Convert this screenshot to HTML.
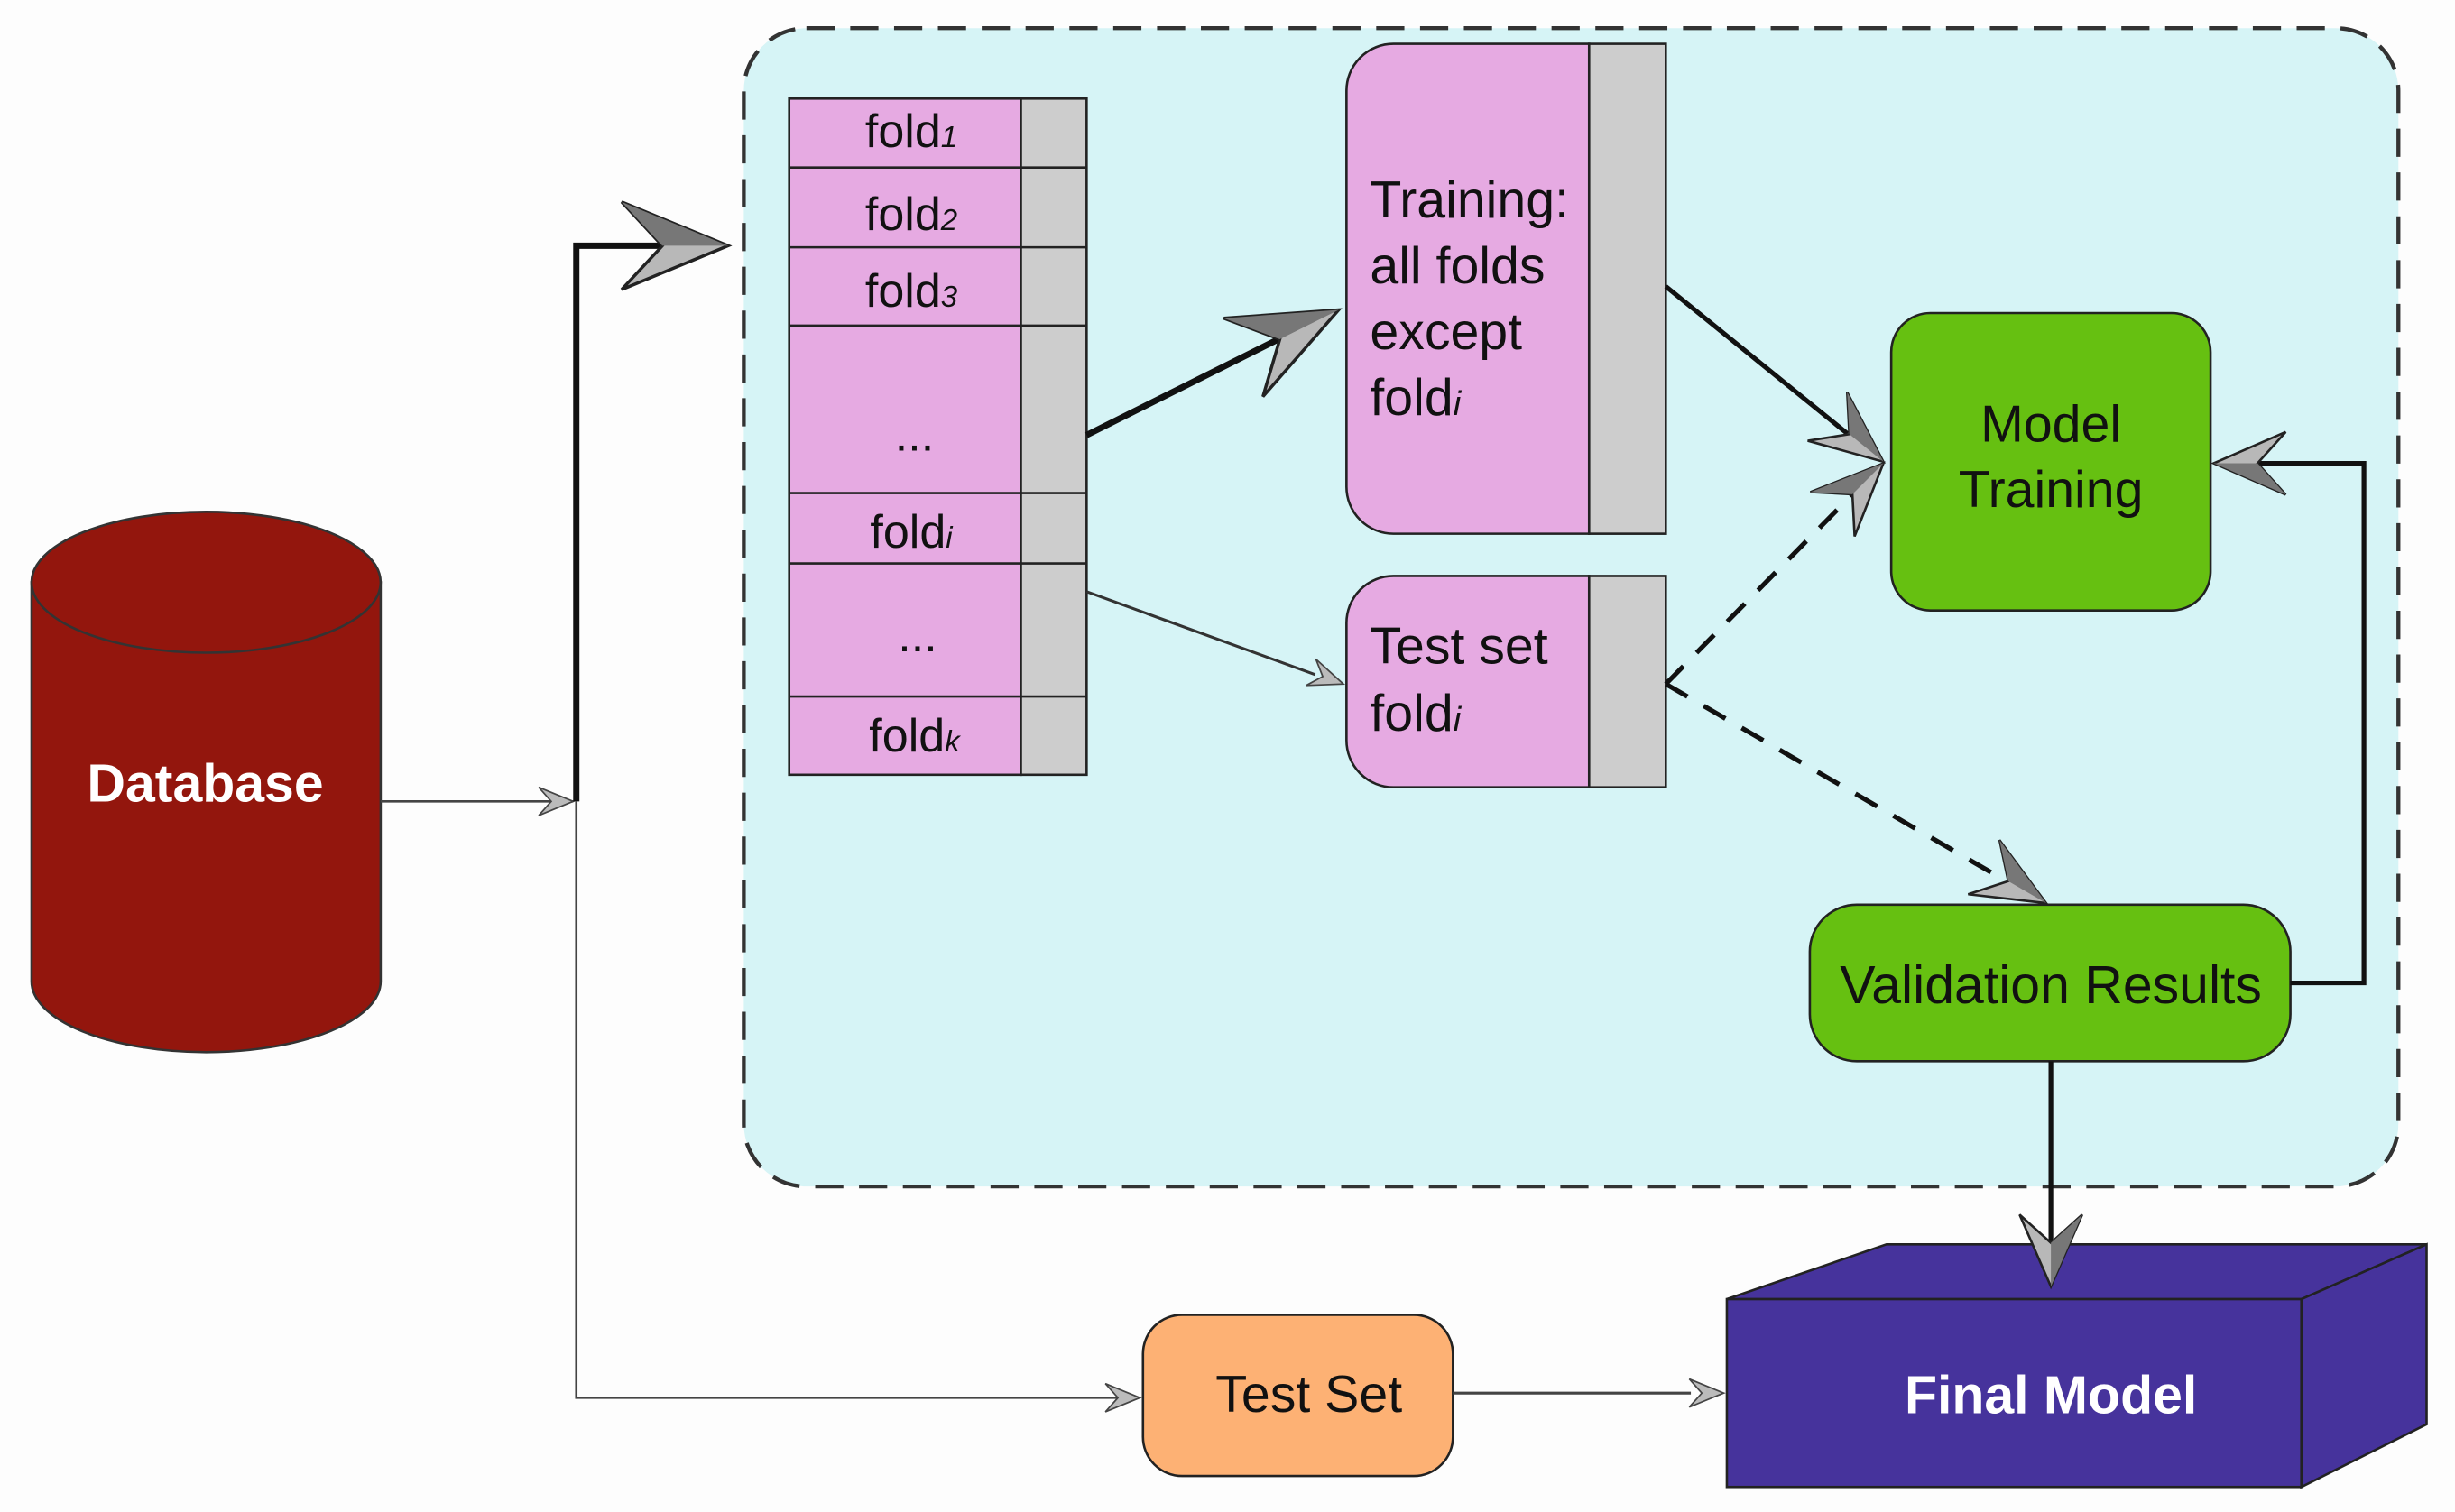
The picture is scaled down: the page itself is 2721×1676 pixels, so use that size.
<!DOCTYPE html>
<html><head><meta charset="utf-8"><style>html,body{margin:0;padding:0;background:#fdfdfd}svg{display:block}text{font-family:"Liberation Sans",Arial,sans-serif}</style></head>
<body>
<svg width="2721" height="1676" viewBox="0 0 1568 966" xmlns="http://www.w3.org/2000/svg">
<defs>
<g id="big"><path d="M0,0 L-68,-28 L-42,0 L-68,28 Z" fill="#b8b8b8" stroke="#222" stroke-width="2"/><path d="M0,0 L-68,-28 L-42,0 Z" fill="#777"/></g>
<g id="med"><path d="M0,0 L-46,-20 L-28,0 L-46,20 Z" fill="#b8b8b8" stroke="#222" stroke-width="1.5"/><path d="M0,0 L-46,-20 L-28,0 Z" fill="#777"/></g>
<g id="sm"><path d="M0,0 L-22,-9 L-14,0 L-22,9 Z" fill="#bbb" stroke="#444" stroke-width="1"/></g>
</defs>
<rect width="1568" height="966" fill="#fdfdfd"/>
<rect x="475" y="18" width="1057" height="740" rx="40" fill="#d6f4f6" stroke="#333" stroke-width="2.5" stroke-dasharray="18,10"/>
<path d="M20,372 L20,627 A111,45 0 0 0 243,627 L243,372 Z" fill="#93160d" stroke="#333" stroke-width="1.5"/>
<ellipse cx="131.5" cy="372" rx="111.5" ry="45" fill="#93160d" stroke="#333" stroke-width="1.5"/>
<text x="131" y="512" font-size="34" font-weight="bold" fill="#fff" text-anchor="middle">Database</text>
<line x1="243" y1="512" x2="366" y2="512" stroke="#444" stroke-width="1.5"/>
<use href="#sm" transform="translate(366,512)"/>
<polyline points="368,512 368,157 425,157" fill="none" stroke="#111" stroke-width="4"/>
<use href="#big" transform="translate(465,157)"/>
<polyline points="368,512 368,893 726,893" fill="none" stroke="#444" stroke-width="1.5"/>
<use href="#sm" transform="translate(728,893)"/>
<g stroke="#222" stroke-width="1.5">
<rect x="504" y="63" width="148" height="432" fill="#e6aae2"/>
<rect x="652" y="63" width="42" height="432" fill="#cdcdcd"/>
<line x1="504" y1="107" x2="694" y2="107"/><line x1="504" y1="158" x2="694" y2="158"/><line x1="504" y1="208" x2="694" y2="208"/><line x1="504" y1="315" x2="694" y2="315"/><line x1="504" y1="360" x2="694" y2="360"/><line x1="504" y1="445" x2="694" y2="445"/>
</g>
<g font-size="30" fill="#111" text-anchor="middle">
<text x="582" y="94">fold<tspan font-size="19" font-style="italic">1</tspan></text>
<text x="582" y="147">fold<tspan font-size="19" font-style="italic">2</tspan></text>
<text x="582" y="196">fold<tspan font-size="19" font-style="italic">3</tspan></text>
<text x="584" y="288">...</text>
<text x="582" y="350">fold<tspan font-size="19" font-style="italic">i</tspan></text>
<text x="586" y="416">...</text>
<text x="584" y="480">fold<tspan font-size="19" font-style="italic">k</tspan></text>
</g>
<line x1="694" y1="278" x2="820" y2="215" stroke="#111" stroke-width="4"/>
<use href="#big" transform="translate(855,198) rotate(-26.5)"/>
<line x1="694" y1="378" x2="840" y2="431" stroke="#333" stroke-width="1.8"/>
<use href="#sm" transform="translate(858,437) rotate(20)"/>
<path d="M890,28 L1015,28 L1015,341 L890,341 A30,30 0 0 1 860,311 L860,58 A30,30 0 0 1 890,28 Z" fill="#e6aae2" stroke="#222" stroke-width="1.5"/>
<rect x="1015" y="28" width="49" height="313" fill="#cdcdcd" stroke="#222" stroke-width="1.5"/>
<g font-size="33" fill="#111">
<text x="875" y="139">Training:</text><text x="875" y="181">all folds</text><text x="875" y="223">except</text><text x="875" y="265">fold<tspan font-size="22" font-style="italic">i</tspan></text>
</g>
<path d="M890,368 L1015,368 L1015,503 L890,503 A30,30 0 0 1 860,473 L860,398 A30,30 0 0 1 890,368 Z" fill="#e6aae2" stroke="#222" stroke-width="1.5"/>
<rect x="1015" y="368" width="49" height="135" fill="#cdcdcd" stroke="#222" stroke-width="1.5"/>
<g font-size="33" fill="#111"><text x="875" y="424">Test set</text><text x="875" y="467">fold<tspan font-size="22" font-style="italic">i</tspan></text></g>
<rect x="1208" y="200" width="204" height="190" rx="25" fill="#66c011" stroke="#222" stroke-width="1.5"/>
<g font-size="33" fill="#111" text-anchor="middle"><text x="1310" y="282">Model</text><text x="1310" y="324">Training</text></g>
<line x1="1064" y1="183" x2="1180" y2="277" stroke="#111" stroke-width="3"/>
<use href="#med" transform="translate(1203,295) rotate(39)"/>
<line x1="1064" y1="437" x2="1185" y2="314" stroke="#111" stroke-width="3" stroke-dasharray="16,12"/>
<use href="#med" transform="translate(1203,296) rotate(-45)"/>
<line x1="1064" y1="437" x2="1285" y2="565" stroke="#111" stroke-width="3" stroke-dasharray="16,12"/>
<use href="#med" transform="translate(1307,577) rotate(30)"/>
<rect x="1156" y="578" width="307" height="100" rx="30" fill="#66c011" stroke="#222" stroke-width="1.5"/>
<text x="1310" y="641" font-size="34" fill="#111" text-anchor="middle">Validation Results</text>
<polyline points="1463,628 1510,628 1510,296 1440,296" fill="none" stroke="#111" stroke-width="3"/>
<use href="#med" transform="translate(1414,296) rotate(180)"/>
<line x1="1310" y1="678" x2="1310" y2="800" stroke="#111" stroke-width="3"/>
<rect x="730" y="840" width="198" height="103" rx="25" fill="#fdb174" stroke="#222" stroke-width="1.5"/>
<text x="836" y="902" font-size="33" fill="#111" text-anchor="middle">Test Set</text>
<line x1="928" y1="890" x2="1080" y2="890" stroke="#444" stroke-width="1.8"/>
<use href="#sm" transform="translate(1101,890)"/>
<path d="M1103,830 L1205,795 L1550,795 L1470,830 Z" fill="#46339c" stroke="#222" stroke-width="1.5"/>
<path d="M1470,830 L1550,795 L1550,910 L1470,950 Z" fill="#46339c" stroke="#222" stroke-width="1.5"/>
<rect x="1103" y="830" width="367" height="120" fill="#46339c" stroke="#222" stroke-width="1.5"/>
<text x="1310" y="903" font-size="34" font-weight="bold" fill="#fff" text-anchor="middle">Final Model</text>
<use href="#med" transform="translate(1310,822) rotate(90)"/>
</svg>
</body></html>
